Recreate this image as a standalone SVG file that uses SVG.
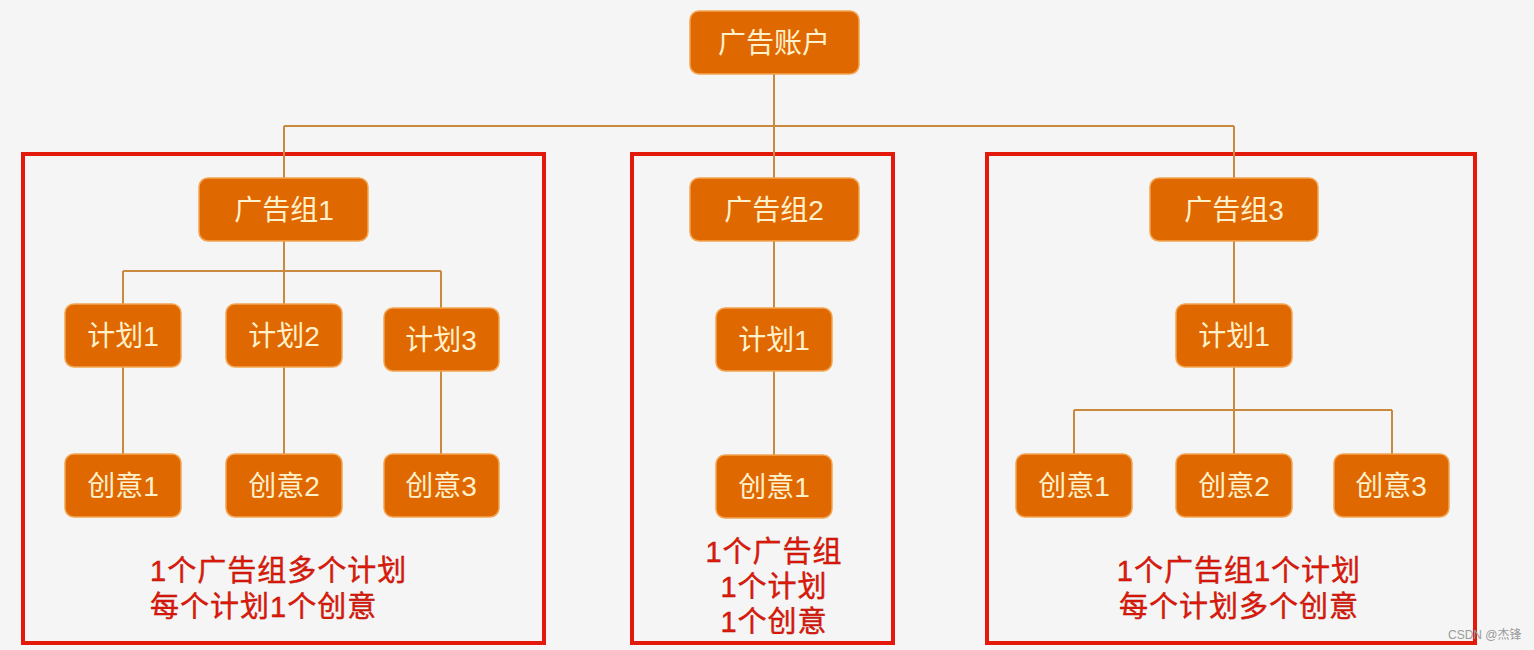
<svg xmlns="http://www.w3.org/2000/svg" width="1534" height="650" viewBox="0 0 1534 650">
<style>
.node rect{fill:#e06800;stroke:#f2a552;stroke-width:1.5}
.node text{fill:#fff1cc;font-family:"Liberation Sans","Noto Sans CJK SC",sans-serif;font-size:28px;text-anchor:middle}
.conn{fill:none;stroke:#c98a40;stroke-width:2}
.frame{fill:none;stroke:#e3190b;stroke-width:4}
.note{fill:#e01a0a;stroke:#b01005;stroke-width:0.4;font-family:"Liberation Sans","Noto Sans CJK SC",sans-serif;font-size:29px;letter-spacing:1px}
</style>
<rect width="1534" height="650" fill="#f5f5f5"/>
<g id="frames">
<rect class="frame" x="23" y="154" width="521" height="489"/>
<rect class="frame" x="632" y="154" width="261" height="489"/>
<rect class="frame" x="987" y="154" width="488" height="489"/>
</g>
<g id="connectors">
<path class="conn" d="M774 74V126M284 126H1234M284 126V178M774 126V178M1234 126V178"/>
<path class="conn" d="M284 241V271M123 271H441M123 271V304M284 271V304M441 271V308"/>
<path class="conn" d="M123 367V454M284 367V454M441 371V454"/>
<path class="conn" d="M774 241V308M774 371V455"/>
<path class="conn" d="M1234 241V304M1234 367V410M1074 410H1392M1074 410V454M1234 410V454M1392 410V454"/>
</g>
<g id="n-account" class="node"><rect x="690" y="11" width="169" height="63" rx="9"/><text x="774" y="53">广告账户</text></g>
<g id="n-group1" class="node"><rect x="199" y="178" width="169" height="63" rx="9"/><text x="284" y="220">广告组1</text></g>
<g id="n-group2" class="node"><rect x="690" y="178" width="169" height="63" rx="9"/><text x="774" y="220">广告组2</text></g>
<g id="n-group3" class="node"><rect x="1150" y="178" width="168" height="63" rx="9"/><text x="1234" y="220">广告组3</text></g>
<g id="n-g1-plan1" class="node"><rect x="65" y="304" width="116" height="63" rx="9"/><text x="123" y="346">计划1</text></g>
<g id="n-g1-plan2" class="node"><rect x="226" y="304" width="116" height="63" rx="9"/><text x="284" y="346">计划2</text></g>
<g id="n-g1-plan3" class="node"><rect x="384" y="308" width="115" height="63" rx="9"/><text x="441" y="350">计划3</text></g>
<g id="n-g1-idea1" class="node"><rect x="65" y="454" width="116" height="63" rx="9"/><text x="123" y="496">创意1</text></g>
<g id="n-g1-idea2" class="node"><rect x="226" y="454" width="116" height="63" rx="9"/><text x="284" y="496">创意2</text></g>
<g id="n-g1-idea3" class="node"><rect x="384" y="454" width="115" height="63" rx="9"/><text x="441" y="496">创意3</text></g>
<g id="n-g2-plan1" class="node"><rect x="716" y="308" width="116" height="63" rx="9"/><text x="774" y="350">计划1</text></g>
<g id="n-g2-idea1" class="node"><rect x="716" y="455" width="116" height="63" rx="9"/><text x="774" y="497">创意1</text></g>
<g id="n-g3-plan1" class="node"><rect x="1176" y="304" width="116" height="63" rx="9"/><text x="1234" y="346">计划1</text></g>
<g id="n-g3-idea1" class="node"><rect x="1016" y="454" width="116" height="63" rx="9"/><text x="1074" y="496">创意1</text></g>
<g id="n-g3-idea2" class="node"><rect x="1176" y="454" width="116" height="63" rx="9"/><text x="1234" y="496">创意2</text></g>
<g id="n-g3-idea3" class="node"><rect x="1334" y="454" width="115" height="63" rx="9"/><text x="1391" y="496">创意3</text></g>
<g id="notes">
<text class="note" x="150" y="581">1个广告组多个计划</text>
<text class="note" x="150" y="617">每个计划1个创意</text>
<text class="note" x="774" y="562" text-anchor="middle">1个广告组</text>
<text class="note" x="774" y="597" text-anchor="middle">1个计划</text>
<text class="note" x="774" y="632" text-anchor="middle">1个创意</text>
<text class="note" x="1239" y="581" text-anchor="middle">1个广告组1个计划</text>
<text class="note" x="1239" y="617" text-anchor="middle">每个计划多个创意</text>
<text x="1448" y="639" fill="#9a9a9a" font-family="Liberation Sans,'Noto Sans CJK SC',sans-serif" font-size="12">CSDN @杰锋</text>
</g>
</svg>
